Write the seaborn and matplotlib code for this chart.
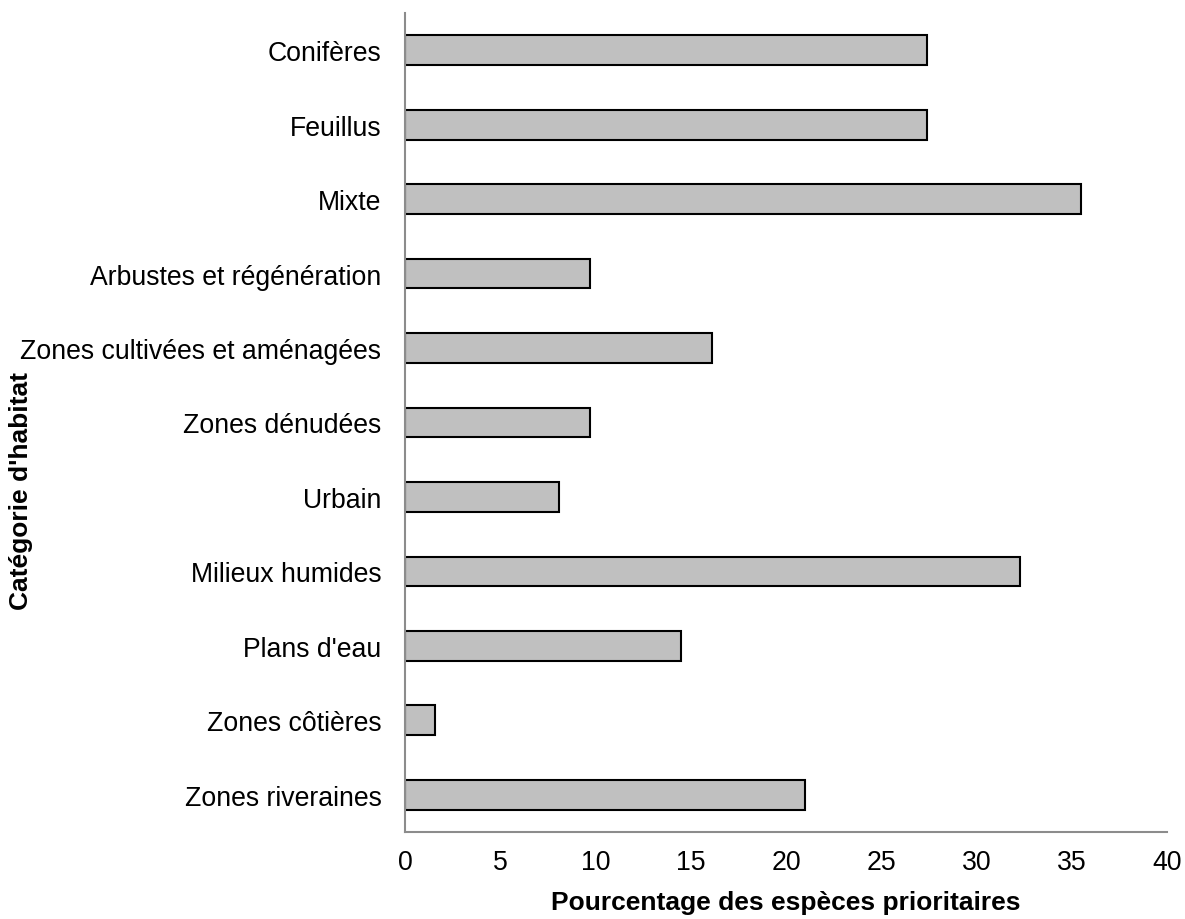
import matplotlib
matplotlib.use("Agg")
import matplotlib.pyplot as plt
import seaborn as sns
import pandas as pd

categories = [
    "Conifères", "Feuillus", "Mixte", "Arbustes et régénération",
    "Zones cultivées et aménagées", "Zones dénudées", "Urbain",
    "Milieux humides", "Plans d'eau", "Zones côtières", "Zones riveraines",
]
values = [27.4, 27.4, 35.5, 9.7, 16.1, 9.7, 8.1, 32.3, 14.5, 1.6, 21.0]
x_ticks = [0, 5, 10, 15, 20, 25, 30, 35, 40]

sns.set_theme(style="white")
plt.rcParams['font.family'] = ['Liberation Sans', 'DejaVu Sans']

df = pd.DataFrame({"cat": categories, "val": values})

fig = plt.figure(figsize=(11.85, 9.2), dpi=100)
ax = fig.add_axes([405/1185, 1-833/920, (1167-405)/1185, (833-14)/920])

sns.barplot(data=df, x="val", y="cat", orient="h", order=categories,
            color="#c0c0c0", saturation=1, edgecolor="black", linewidth=1.5,
            width=0.4, ax=ax)

ax.set_xlim(0, 40)
ax.set_ylim(len(categories) - 0.5, -0.5)
ax.set_xticks(x_ticks)
ax.set_xticklabels([str(t) for t in x_ticks])

for s in ["top", "right"]:
    ax.spines[s].set_visible(False)
for s in ["left", "bottom"]:
    ax.spines[s].set_color("#8c8c8c")
    ax.spines[s].set_linewidth(1.5)

ax.tick_params(axis="y", length=0, pad=17, labelsize=19.2, labelcolor="black")
ax.tick_params(axis="x", length=0, pad=12, labelsize=19.2, labelcolor="black")

ax.set_xlabel("Pourcentage des espèces prioritaires", fontsize=19,
              fontweight="bold", color="black", labelpad=11)
ax.set_ylabel("Catégorie d'habitat", fontsize=19, fontweight="bold",
              color="black")
ax.yaxis.set_label_coords(-0.488, 0.417)

fig.savefig("out.png", dpi=100)
